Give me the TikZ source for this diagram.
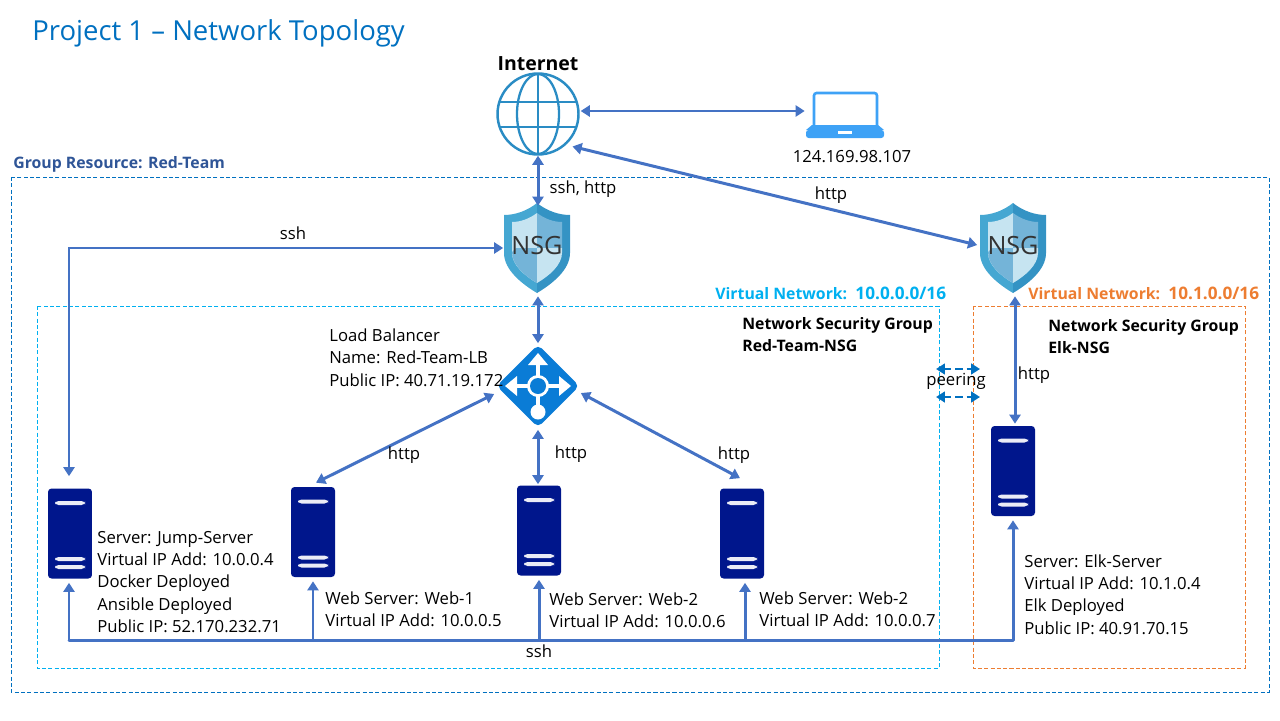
\documentclass[tikz,border=0pt]{standalone}
\usepackage{fontspec}
\setmainfont{Open Sans}
\usepackage{xcolor}
\usetikzlibrary{arrows.meta,positioning,shapes.geometric,calc}
\definecolor{LinkBlue}{HTML}{4472C4}
\definecolor{TitleBlue}{HTML}{0070C0}
\definecolor{GroupBlue}{HTML}{2F5597}
\definecolor{VnetCyan}{HTML}{00B0F0}
\definecolor{VnetOrange}{HTML}{ED7D31}
\definecolor{ServerNavy}{HTML}{00168C}
\definecolor{GlobeBlue}{HTML}{2A8CC4}
\definecolor{LaptopBlue}{HTML}{3EA2F6}
\definecolor{BalancerBlue}{HTML}{0A7CD6}
\definecolor{ShieldOuter}{HTML}{45A7D2}
\definecolor{ShieldEdge}{HTML}{3493C4}
\definecolor{ShieldLight}{HTML}{C6E4F1}
\definecolor{ShieldDark}{HTML}{74B4D8}
\newcommand{\shieldicon}[1]{%
  \begin{scope}[shift={(#1)}]
    \fill[ShieldOuter](0,-45)..controls(-10,-37)and(-22,-33)..(-33,-33)--(-33,5)
      ..controls(-33,22)and(-15,36)..(0,45)--cycle;
    \fill[ShieldEdge](0,-45)..controls(10,-37)and(22,-33)..(33,-33)--(33,5)
      ..controls(33,22)and(15,36)..(0,45)--cycle;
    \fill[ShieldLight](0,-35)..controls(-8,-29)and(-17,-26)..(-25,-26)--(-25,5)
      ..controls(-25,17)and(-12,28)..(0,35)--cycle;
    \fill[ShieldDark](0,-35)..controls(8,-29)and(17,-26)..(25,-26)--(25,0)--(0,0)--cycle;
    \fill[ShieldDark](-25,4)..controls(-25,17)and(-12,28)..(0,35)--(0,0)--(-21,0)--cycle;
    \fill[ShieldLight](25,0)--(25,5)..controls(25,17)and(12,28)..(0,35)--(0,0)--cycle;
  \end{scope}}
\newcommand{\balancericon}[1]{%
  \begin{scope}[shift={(#1)}]
    \draw[white,line width=2.6pt](-27,0)--(27,0);
    \draw[white,line width=2.6pt](0,-27)--(0,24);
    \fill[white](33,0)--(21,-10)--(21,10)--cycle;
    \fill[white](-33,0)--(-21,-10)--(-21,10)--cycle;
    \fill[white](0,-33)--(-10,-21)--(10,-21)--cycle;
    \fill[white](0,26)circle(7.5);
    \fill[white](0,0)circle(11);
    \fill[BalancerBlue](0,0)circle(8);
  \end{scope}}
\newcommand{\serverbars}{%
  \begin{scope}[shift={(path picture bounding box.center)}]
    \foreach \ypos in {-30.5,25.5,33.5}{
      \fill[white!92!ServerNavy](-15,\ypos-2)rectangle(15,\ypos+2);}
  \end{scope}}
\newcommand{\globelines}{%
  \begin{scope}[shift={(path picture bounding box.center)}]
    \draw[GlobeBlue,line width=1.3pt](0,-41)--(0,41);
    \draw[GlobeBlue,line width=1.3pt](-41,-12)--(41,-12);
    \draw[GlobeBlue,line width=1.3pt](-41,13)--(41,13);
    \draw[GlobeBlue,line width=1.3pt](0,0)ellipse(21 and 40);
  \end{scope}}
\newcommand{\laptopicon}{%
  \begin{scope}[shift={(path picture bounding box.center)}]
    \draw[LaptopBlue,line width=1.5pt,rounded corners=1.5pt](-31,-22)rectangle(32,16);
    \fill[LaptopBlue,rounded corners=1.5pt](-39,15)--(39,15)--(39,23)--(-39,23)--cycle;
    \fill[LaptopBlue](-39,15)--(-33,10)--(33,10)--(39,15)--cycle;
    \fill[white](-7,16)rectangle(7,19);
  \end{scope}}
\newcommand{\vnetaddr}[1]{{\fontsize{9.8}{12.75}\selectfont #1}}
\tikzset{
  linkboth/.style={LinkBlue,line width=1.7pt,{Triangle[width=6.4pt,length=5.2pt]}-{Triangle[width=6.4pt,length=5.2pt]}},
  linkup/.style={LinkBlue,line width=1.7pt,-{Triangle[width=6.4pt,length=5.2pt]}},
  peerlink/.style={TitleBlue,line width=1.5pt,dash pattern=on 4pt off 2.4pt,{Triangle[width=6pt,length=5pt]}-{Triangle[width=6pt,length=5pt]}},
  serverbox/.style={rectangle,fill=ServerNavy,rounded corners=2pt,minimum width=.88cm,minimum height=1.8cm,inner sep=0pt,path picture={\serverbars}},
  nsgbox/.style={rectangle,minimum width=1.34cm,minimum height=1.8cm,inner sep=0pt},
  nsgtxt/.style={inner sep=0pt,text=black!80,font=\fontsize{14.3}{16}\selectfont},
  plain/.style={inner sep=0pt,align=left,anchor=west,font=\fontsize{9.5}{12.75}\selectfont},
  boldtxt/.style={plain,font=\fontsize{9}{12.75}\selectfont\bfseries},
  areabox/.style={line width=.42pt,dash pattern=on 2.3pt off 1.3pt},
}
\begin{document}
\begin{tikzpicture}[x=0.02cm,y=-0.02cm]
  \useasboundingbox(0,0)rectangle(1280,720);
  % dashed areas
  \draw[areabox,TitleBlue](11,177)rectangle(1269,692);
  \draw[areabox,VnetCyan](37,306)rectangle(939,668);
  \draw[areabox,VnetOrange](973,306)rectangle(1245,668);
  % icons
  \node[circle,draw=GlobeBlue,line width=1.4pt,minimum size=1.62cm,inner sep=0pt,path picture={\globelines}](globe)at(538,114){};
  \node[rectangle,minimum width=1.6cm,minimum height=.94cm,inner sep=0pt,path picture={\laptopicon}](laptop)at(845,115){};
  \node[nsgbox](nsgred)at(537,248){};
  \node[nsgbox](nsgelk)at(1013,248){};
  \shieldicon{nsgred.center}
  \shieldicon{nsgelk.center}
  \node[diamond,aspect=1,fill=BalancerBlue,rounded corners=3pt,minimum width=1.66cm,minimum height=1.66cm,inner sep=0pt](balancer)at(538,386){};
  \balancericon{balancer.center}
  \foreach \name/\x/\y in {jumpsrv/70/533.5,webone/313/532,webtwo/539/530.5,webthree/742/533.5,elksrv/1013/471}{
    \node[serverbox](\name)at(\x,\y){};}
  % connectors
  \draw[linkboth]($(globe.east)+(1,-3)$)--($(laptop.west)+(0,-4)$);
  \draw[linkboth](globe.south)--($(nsgred.north)+(1,3)$);
  \draw[linkboth]($(globe.south east)+(5,3)$)--($(nsgelk.west)+(-2,-3)$);
  \draw[linkboth](nsgred.west)-|($(jumpsrv.north)+(-1,-12)$);
  \draw[linkboth]($(nsgred.south)+(1,3)$)--($(balancer.north)+(0,-1)$);
  \draw[linkboth]($(balancer.west)+(-2,8)$)--($(webone.north)+(3,-4)$);
  \draw[linkboth]($(balancer.south)+(0,2)$)--($(webtwo.north)+(-1,-1)$);
  \draw[linkboth]($(balancer.east)+(1,7)$)--($(webthree.north)+(-2,-10)$);
  \draw[linkboth]($(nsgelk.south)+(2,3)$)--($(elksrv.north)+(2,-2)$);
  \coordinate(busline)at(69,640);
  \coordinate(peerAleft)at(936,369);
  \coordinate(peerAright)at(980,369);
  \coordinate(peerBleft)at(936,397);
  \coordinate(peerBright)at(980,397);
  \draw[LinkBlue,line width=1.7pt,line cap=round]($(jumpsrv.south |- busline)+(-1,0)$)--(elksrv.south |- busline);
  \foreach \name/\off in {jumpsrv/-1,webone/0,webtwo/0,webthree/3,elksrv/0}{
    \draw[linkup,line cap=round]($(\name.south |- busline)+(\off,0)$)--($(\name.south)+(\off,4)$);}
  \draw[peerlink](peerAleft)--(peerAright);
  \draw[peerlink](peerBleft)--(peerBright);
  % texts
  \node[nsgtxt](nsgredlabel)at($(nsgred)+(0,-2)$){NSG};
  \node[nsgtxt](nsgelklabel)at($(nsgelk)+(0,-2)$){NSG};
  \node[plain,text=TitleBlue,font=\fontsize{15.65}{20}\selectfont](title)at(32,33){Project 1 -- Network Topology};
  \node[inner sep=0pt,font=\fontsize{11.1}{13}\selectfont\bfseries](nettxt)at(538,64){Internet};
  \node[inner sep=0pt,font=\fontsize{9.5}{12}\selectfont](iptxt)at(852,157){124.169.98.107};
  \node[boldtxt,text=GroupBlue](grouptxt)at(13,164){Group Resource: Red-Team};
  \node[boldtxt,text=VnetCyan](vnetred)at(715,293){Virtual Network:\ \ \vnetaddr{10.0.0.0/16}};
  \node[boldtxt,text=VnetOrange](vnetelk)at(1028,293){Virtual Network:\ \ \vnetaddr{10.1.0.0/16}};
  \node[boldtxt](nsgredtxt)at(742,334.5){Network Security Group\\Red-Team-NSG};
  \node[boldtxt](nsgelktxt)at(1048,336.5){Network Security Group\\Elk-NSG};
  \node[plain](lbtxt)at(329,357.5){Load Balancer\\Name: Red-Team-LB\\Public IP: 40.71.19.172};
  \node[plain](jumptxt)at(97,582){Server: Jump-Server\\Virtual IP Add: 10.0.0.4\\Docker Deployed\\Ansible Deployed\\Public IP: 52.170.232.71};
  \node[plain](weblabelA)at(325,609.5){Web Server: Web-1\\Virtual IP Add: 10.0.0.5};
  \node[plain](weblabelB)at(549,610){Web Server: Web-2\\Virtual IP Add: 10.0.0.6};
  \node[plain](weblabelC)at(759,609.5){Web Server: Web-2\\Virtual IP Add: 10.0.0.7};
  \node[plain](elktxt)at(1024,594.5){Server: Elk-Server\\Virtual IP Add: 10.1.0.4\\Elk Deployed\\Public IP: 40.91.70.15};
  \foreach \name/\x/\y/\txt in {sshhttp/583/189/{ssh, http},httpelk/831/195/http,sshred/293/233/ssh,httpA/404/455/http,httpB/571/454/http,httpC/734/455/http,httpD/1034/375/http,sshbus/539/651/ssh,peertxt/956/381/peering}{
    \node[inner sep=0pt,font=\fontsize{9.5}{12}\selectfont](\name)at(\x,\y){\txt};}
\end{tikzpicture}
\end{document}
